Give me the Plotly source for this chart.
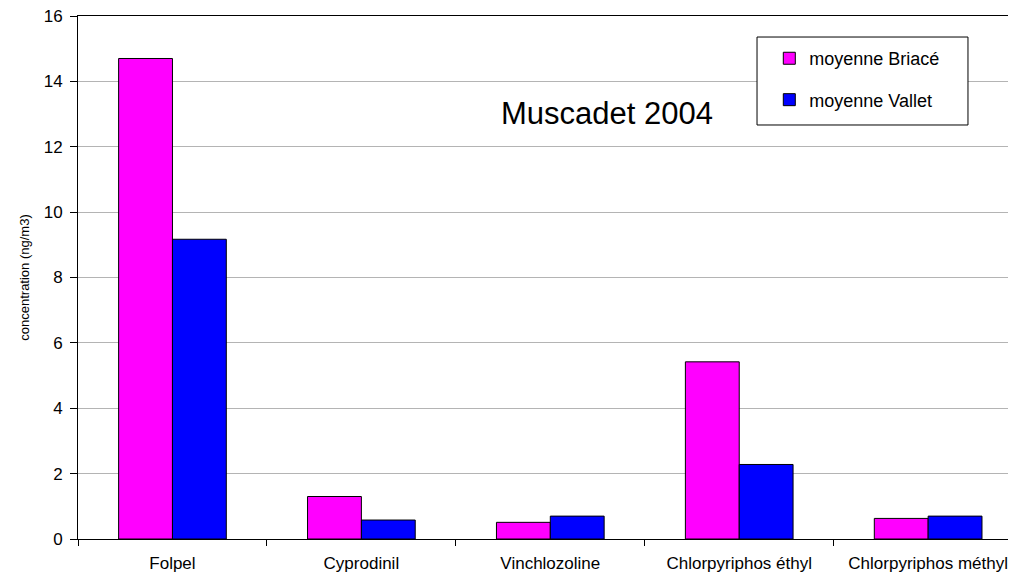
import plotly.graph_objects as go

categories = ["Folpel", "Cyprodinil", "Vinchlozoline", "Chlorpyriphos éthyl", "Chlorpyriphos méthyl"]
briace = [14.7, 1.3, 0.51, 5.42, 0.63]
vallet = [9.17, 0.58, 0.70, 2.28, 0.70]
series_names = ["moyenne Briacé", "moyenne Vallet"]
y_ticks = [0, 2, 4, 6, 8, 10, 12, 14, 16]

FONT = "Liberation Sans, Arial, sans-serif"

fig = go.Figure()
fig.add_trace(go.Bar(x=categories, y=briace, name=series_names[0], legendgroup="a",
                     marker=dict(color="#FF00FF", line=dict(color="black", width=1))))
fig.add_trace(go.Bar(x=categories, y=vallet, name=series_names[1], legendgroup="b",
                     marker=dict(color="#0000FF", line=dict(color="black", width=1))))

# page has an 8px body margin: figure is 1008x566 so it fits the 1016x574 window
fig.update_layout(
    width=1008, height=566,
    margin=dict(l=70, r=0, t=8, b=35, autoexpand=False),
    paper_bgcolor="white", plot_bgcolor="white",
    font=dict(family=FONT, color="black"),
    barmode="group", bargap=0.43, bargroupgap=0,
    legend=dict(x=0.737, y=0.954, xanchor="left", yanchor="top",
                borderwidth=0, bgcolor="rgba(0,0,0,0)",
                font=dict(size=18, family=FONT), traceorder="grouped",
                tracegroupgap=15, itemclick=False),
    shapes=[dict(type="rect", xref="paper", yref="paper",
                 x0=0.7239, x1=0.9488, y0=0.7916, y1=0.9598,
                 line=dict(color="black", width=1), fillcolor="white", layer="above")],
    annotations=[dict(text="Muscadet 2004", x=0.564, y=0.8145, xref="paper", yref="paper",
                      xanchor="center", yanchor="middle", showarrow=False,
                      font=dict(size=31, family=FONT))],
)
fig.update_xaxes(range=[-0.5, 4.465], showline=True, linecolor="black", linewidth=1,
                 mirror=True, ticks="outside", tickson="boundaries", ticklen=6,
                 tickcolor="black", tickfont=dict(size=17), ticklabelstandoff=9,
                 ticklabeloverflow="allow", showgrid=False, automargin=False)
fig.update_yaxes(range=[0, 16], tickvals=y_ticks, showline=True, linecolor="black", linewidth=1,
                 ticks="outside", ticklen=7, tickcolor="black", tickfont=dict(size=17),
                 ticklabelstandoff=4, ticklabeloverflow="allow", automargin=False,
                 showgrid=True, gridcolor="#b4b4b4", gridwidth=1, zeroline=False,
                 title=dict(text="concentration (ng/m3)", font=dict(size=13), standoff=11))

fig.write_html("out.html")
